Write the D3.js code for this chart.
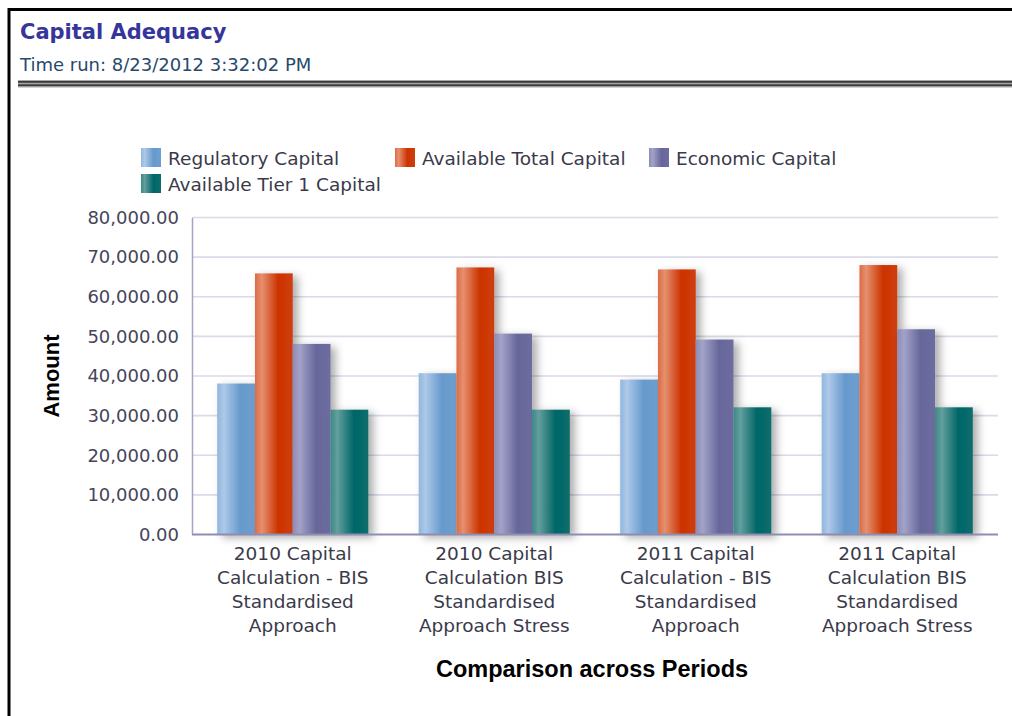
<!DOCTYPE html>
<html>
<head>
<meta charset="utf-8">
<script src="https://cdn.jsdelivr.net/npm/d3@7"></script>
<style>
  body { margin: 0; background: #fff; }
  svg { display: block; }
</style>
</head>
<body>
<svg id="chart" width="1012" height="716"></svg>
<script>
// data
var categories = [
    "2010 Capital Calculation - BIS Standardised Approach",
    "2010 Capital Calculation BIS Standardised Approach Stress",
    "2011 Capital Calculation - BIS Standardised Approach",
    "2011 Capital Calculation BIS Standardised Approach Stress"
];
var categoryLines = [
    ["2010 Capital", "Calculation - BIS", "Standardised", "Approach"],
    ["2010 Capital", "Calculation BIS", "Standardised", "Approach Stress"],
    ["2011 Capital", "Calculation - BIS", "Standardised", "Approach"],
    ["2011 Capital", "Calculation BIS", "Standardised", "Approach Stress"]
];
var seriesNames = ["Regulatory Capital", "Available Total Capital", "Economic Capital", "Available Tier 1 Capital"];
var regulatoryCapital = [38100, 40700, 39100, 40700];
var availableTotalCapital = [65900, 67400, 66900, 68000];
var economicCapital = [48100, 50700, 49200, 51800];
var availableTier1Capital = [31500, 31500, 32100, 32100];
var yTicks = [0, 10000, 20000, 30000, 40000, 50000, 60000, 70000, 80000];

var seriesValues = [regulatoryCapital, availableTotalCapital, economicCapital, availableTier1Capital];
// base colour and highlight colour for each series
var baseColors = ["#6699cc", "#cc3300", "#66669a", "#006666"];
var lightColors = ["#adc9e8", "#e6906f", "#a3a3c9", "#639f9d"];

var svg = d3.select("#chart");
// note: "top" clashes with window.top, so use plot* names
var plotLeft = 192, plotRight = 998, plotTop = 217.5, plotBottom = 534.5;

var defs = svg.append("defs");

// one horizontal gradient per series, light stripe on the left, dark on the right
for (var i = 0; i < seriesNames.length; i++) {
    var g = defs.append("linearGradient")
        .attr("id", "grad" + i)
        .attr("x1", "0").attr("x2", "1").attr("y1", "0").attr("y2", "0");
    var mid = d3.interpolateRgb(baseColors[i], lightColors[i]);
    g.append("stop").attr("offset", "0%").attr("stop-color", mid(0.6));
    g.append("stop").attr("offset", "18%").attr("stop-color", lightColors[i]);
    g.append("stop").attr("offset", "62%").attr("stop-color", baseColors[i]);
    g.append("stop").attr("offset", "100%").attr("stop-color", mid(0.12));
}

var shadow = defs.append("filter").attr("id", "shadow")
    .attr("x", "-20%").attr("y", "-10%").attr("width", "160%").attr("height", "130%");
shadow.append("feDropShadow")
    .attr("dx", 5).attr("dy", 3).attr("stdDeviation", 4)
    .attr("flood-color", "#000").attr("flood-opacity", 0.33);

// frame and header
svg.append("line").attr("x1", 8).attr("x2", 1012).attr("y1", 9.5).attr("y2", 9.5)
    .attr("stroke", "#000").attr("stroke-width", 3);
svg.append("line").attr("x1", 9).attr("x2", 9).attr("y1", 8).attr("y2", 716)
    .attr("stroke", "#000").attr("stroke-width", 3);

svg.append("text").attr("x", 20).attr("y", 39)
    .style("font-family", "DejaVu Sans").style("font-weight", "bold").style("font-size", "21px")
    .style("fill", "#36369a")
    .text("Capital Adequacy");
svg.append("text").attr("x", 20).attr("y", 71)
    .style("font-family", "DejaVu Sans").style("font-size", "18px")
    .style("fill", "#27496b")
    .text("Time run: 8/23/2012 3:32:02 PM");

svg.append("rect").attr("x", 18).attr("y", 80).attr("width", 994).attr("height", 7.5).attr("fill", "#a8a8a8");
svg.append("rect").attr("x", 18).attr("y", 81).attr("width", 994).attr("height", 1.8).attr("fill", "#3c3c3c");
svg.append("rect").attr("x", 18).attr("y", 84.3).attr("width", 994).attr("height", 1.8).attr("fill", "#3c3c3c");

// scales
var x0 = d3.scaleBand().domain(categories).range([plotLeft, plotRight]).paddingInner(0.25).paddingOuter(0.125);
var x1 = d3.scaleBand().domain(seriesNames).range([0, x0.bandwidth()]);
var y = d3.scaleLinear().domain([0, 80000]).range([plotBottom, plotTop]);

// gridlines
svg.append("g")
    .selectAll("line")
    .data(yTicks.slice(1))
    .enter().append("line")
    .attr("x1", plotLeft).attr("x2", plotRight)
    .attr("y1", function(d) { return y(d); })
    .attr("y2", function(d) { return y(d); })
    .attr("stroke", "#dadae8").attr("stroke-width", 1.6);

// y axis
var yAxis = svg.append("g")
    .attr("transform", "translate(" + plotLeft + ",0)")
    .call(d3.axisLeft(y).tickValues(yTicks).tickFormat(d3.format(",.2f")).tickSize(0).tickPadding(13));
yAxis.select(".domain").attr("stroke", "#a4a4c4").attr("stroke-width", 1.5);
yAxis.selectAll("text")
    .style("font-family", "DejaVu Sans").style("font-size", "18px").style("fill", "#45455a");

// bars
var groups = svg.append("g")
    .selectAll("g")
    .data(categories)
    .enter().append("g")
    .attr("transform", function(d) { return "translate(" + x0(d) + ",0)"; });

groups.selectAll("rect")
    .data(function(d, ci) {
        return seriesNames.map(function(s, si) { return { series: s, index: si, value: seriesValues[si][ci] }; });
    })
    .enter().append("rect")
    .attr("x", function(d) { return x1(d.series); })
    .attr("y", function(d) { return y(d.value); })
    .attr("width", x1.bandwidth())
    .attr("height", function(d) { return y(0) - y(d.value); })
    .attr("fill", function(d) { return "url(#grad" + d.index + ")"; })
    .attr("filter", "url(#shadow)");

// x axis baseline
svg.append("line").attr("x1", plotLeft).attr("x2", plotRight).attr("y1", plotBottom).attr("y2", plotBottom)
    .attr("stroke", "#8e8eb2").attr("stroke-width", 2);

// x labels, four lines each
var xl = svg.append("g")
    .selectAll("text")
    .data(categories)
    .enter().append("text")
    .attr("text-anchor", "middle")
    .style("font-family", "DejaVu Sans").style("font-size", "18.5px").style("fill", "#3a3a4a");
xl.each(function(d, i) {
    var t = d3.select(this);
    var cx = x0(d) + x0.bandwidth() / 2;
    categoryLines[i].forEach(function(line, k) {
        t.append("tspan").attr("x", cx).attr("y", 560 + k * 24).text(line);
    });
});

// axis titles
svg.append("text")
    .attr("transform", "translate(59," + ((plotTop + plotBottom) / 2) + ") rotate(-90)")
    .attr("text-anchor", "middle")
    .style("font-family", "Liberation Sans").style("font-weight", "bold").style("font-size", "22px")
    .style("fill", "#000")
    .text("Amount");
svg.append("text")
    .attr("x", 592).attr("y", 677)
    .attr("text-anchor", "middle")
    .style("font-family", "Liberation Sans").style("font-weight", "bold").style("font-size", "23.5px")
    .style("fill", "#000")
    .text("Comparison across Periods");

// legend: three columns, wraps onto a second row
var legend = svg.append("g")
    .selectAll("g")
    .data(seriesNames)
    .enter().append("g")
    .attr("transform", function(d, i) {
        return "translate(" + (141 + (i % 3) * 254) + "," + (148 + Math.floor(i / 3) * 26) + ")";
    });
legend.append("rect")
    .attr("width", 20).attr("height", 19)
    .attr("fill", function(d, i) { return "url(#grad" + i + ")"; });
legend.append("text")
    .attr("x", 27).attr("y", 17)
    .style("font-family", "DejaVu Sans").style("font-size", "18.5px").style("fill", "#3a3a4a")
    .text(function(d) { return d; });
</script>
</body>
</html>
